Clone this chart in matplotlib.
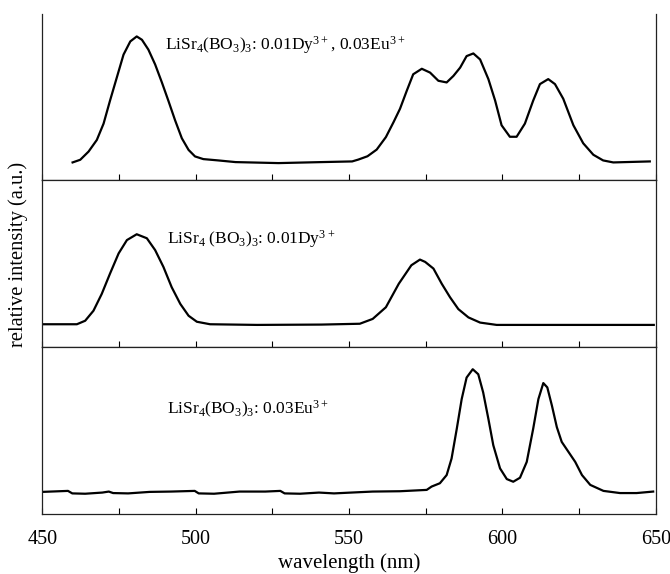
import matplotlib
matplotlib.use("Agg")
import matplotlib.pyplot as plt
from matplotlib.ticker import MultipleLocator

plt.rcParams['font.family'] = ['Liberation Serif', 'DejaVu Serif']
plt.rcParams['mathtext.fontset'] = 'custom'
plt.rcParams['mathtext.rm'] = 'Liberation Serif'
plt.rcParams['mathtext.default'] = 'regular'

# top: Dy + Eu co-doped
wl_both = [459.9, 462.4, 465.1, 467.8, 470.0, 472.1, 474.3, 476.5, 478.7, 480.8,
           482.5, 484.6, 486.8, 489.0, 491.1, 493.3, 495.5, 497.7, 499.8, 502.5,
           507.4, 513.0, 527.0, 541.0, 551.0, 553.0, 556.0, 559.0, 562.0, 564.5,
           566.6, 568.8, 570.9, 573.7, 576.4, 579.1, 581.8, 584.0, 586.2, 588.3,
           590.5, 592.7, 595.4, 597.6, 599.7, 602.4, 604.6, 607.3, 610.0, 612.2,
           614.9, 617.1, 619.8, 623.1, 626.3, 629.6, 632.8, 636.1, 648.0]
int_both = [10.8, 12.4, 17.3, 24.3, 34.1, 47.9, 61.7, 75.5, 83.4, 86.4,
            84.4, 78.5, 69.6, 58.8, 47.9, 36.1, 25.3, 18.3, 14.4, 12.8,
            12.0, 11.0, 10.4, 11.0, 11.4, 12.5, 14.5, 18.5, 26.0, 35.0,
            43.0, 53.8, 63.7, 67.0, 64.7, 59.8, 58.8, 62.7, 67.7, 74.6,
            76.2, 72.6, 60.8, 47.9, 33.1, 26.2, 26.2, 34.1, 47.9, 57.8,
            60.8, 57.8, 49.0, 33.1, 22.3, 15.4, 12.0, 10.8, 11.4]

# middle: Dy only
wl_dy = [450.0, 461.3, 464.0, 466.7, 469.4, 472.1, 474.9, 477.6, 480.8, 484.1,
         486.8, 489.5, 492.2, 495.0, 497.7, 500.4, 504.7, 520.0, 541.0, 553.5,
         557.7, 562.0, 566.2, 570.3, 573.1, 574.8, 577.5, 580.2, 582.9, 585.6,
         588.9, 592.7, 598.1, 631.8, 649.3]
int_dy = [13.7, 13.7, 15.8, 21.8, 31.9, 44.1, 56.2, 64.2, 67.7, 65.3,
          58.2, 48.1, 35.9, 25.9, 18.8, 15.2, 13.7, 13.3, 13.5, 14.0,
          16.9, 23.9, 38.0, 49.1, 52.5, 51.1, 47.1, 38.0, 29.9, 22.8,
          17.8, 14.7, 13.3, 13.3, 13.3]

# bottom: Eu only
wl_eu = [450.0, 458.4, 459.8, 464.0, 469.6, 471.7, 473.1, 478.0, 485.0, 492.0,
         499.7, 501.0, 506.0, 514.3, 522.7, 527.6, 529.0, 534.0, 540.2, 545.1,
         550.7, 557.7, 566.6, 575.3, 576.9, 579.6, 581.8, 583.4, 585.1, 586.7,
         588.3, 590.3, 592.1, 593.7, 595.4, 597.0, 599.2, 601.4, 603.5, 605.7,
         607.9, 610.0, 611.7, 613.3, 614.6, 616.1, 617.7, 619.3, 621.5, 623.7,
         625.9, 628.6, 632.9, 638.3, 643.7, 649.1]
int_eu = [13.1, 13.7, 12.2, 12.0, 12.7, 13.3, 12.4, 12.2, 13.1, 13.3,
          13.7, 12.2, 12.0, 13.3, 13.3, 13.7, 12.2, 12.0, 12.7, 12.2,
          12.7, 13.3, 13.5, 14.3, 16.3, 18.3, 23.2, 33.1, 51.0, 68.8,
          81.7, 86.7, 83.7, 72.8, 56.9, 41.1, 27.2, 20.8, 19.2, 21.6,
          31.1, 51.0, 68.8, 78.4, 75.8, 64.9, 52.0, 43.1, 37.1, 31.1,
          23.2, 17.3, 13.7, 12.4, 12.4, 13.3]

labels = [r'LiSr$_4$(BO$_3$)$_3$: 0.01Dy$^{3+}$, 0.03Eu$^{3+}$',
          r'LiSr$_4$ (BO$_3$)$_3$: 0.01Dy$^{3+}$',
          r'LiSr$_4$(BO$_3$)$_3$: 0.03Eu$^{3+}$']
label_pos = [(490.0, 81.0), (490.6, 65.0), (490.6, 62.8)]

fig = plt.figure(figsize=(6.7, 5.74), dpi=100)
gs = fig.add_gridspec(3, 1, left=0.063, right=0.979, top=0.976, bottom=0.105, hspace=0)
axes = [fig.add_subplot(gs[i]) for i in range(3)]

series = [(wl_both, int_both), (wl_dy, int_dy), (wl_eu, int_eu)]
for i, ax in enumerate(axes):
    x, y = series[i]
    ax.plot(x, y, color='black', lw=1.6, solid_joinstyle='round')
    ax.set_xlim(450, 650)
    ax.set_ylim(0, 100)
    ax.set_yticks([])
    ax.xaxis.set_major_locator(MultipleLocator(50))
    ax.xaxis.set_minor_locator(MultipleLocator(25))
    ax.tick_params(axis='x', which='both', direction='in', length=4, width=0.8,
                   top=False, labelsize=14.5, pad=12)
    for s in ax.spines.values():
        s.set_linewidth(0.9)
        s.set_color('#222222')
    ax.text(label_pos[i][0], label_pos[i][1], labels[i], fontsize=12.5,
            ha='left', va='center')
    if i < 2:
        ax.tick_params(axis='x', labelbottom=False)

axes[0].spines['top'].set_visible(False)
axes[2].set_xlabel('wavelength (nm)', fontsize=15, labelpad=3)
fig.text(0.027, 0.556, 'relative intensity (a.u.)', rotation=90, fontsize=14.8,
         ha='center', va='center')

fig.savefig('out.png', dpi=100)
